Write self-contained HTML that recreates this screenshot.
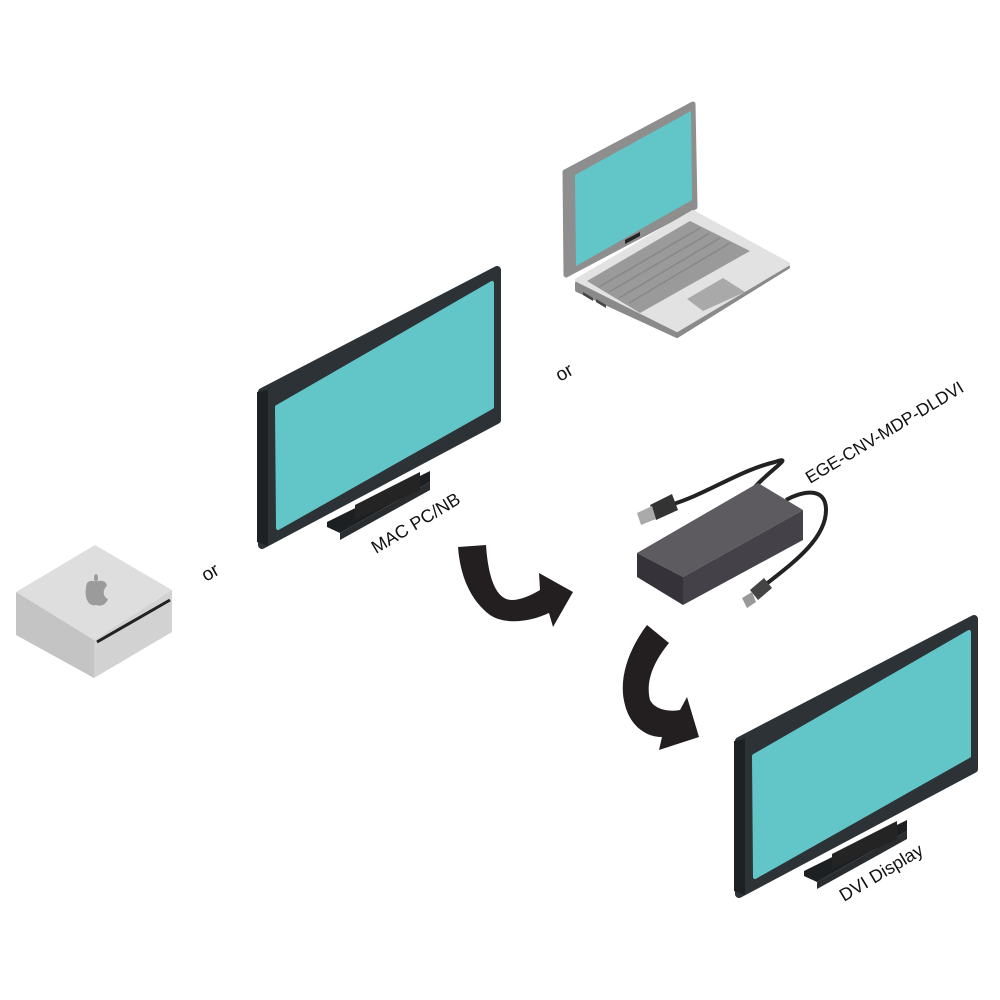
<!DOCTYPE html>
<html><head><meta charset="utf-8"><style>
html,body{margin:0;padding:0;background:#fff;width:1000px;height:1000px;overflow:hidden}
svg{display:block}
text{font-family:"Liberation Sans",sans-serif;fill:#111}
</style></head><body>
<svg width="1000" height="1000" viewBox="0 0 1000 1000" xmlns="http://www.w3.org/2000/svg">
<defs>
<g id="mon">
  <polygon points="327,522 430,471 430,482 340,533 327,527" fill="#1d2022"/>
  <polygon points="340,533 430,482 430,490 340,540" fill="#2a2d30"/>
  <polygon points="355,505 420,472 420,490 355,520" fill="#242424"/>
  <polygon points="262,392 497,270 497,420 262,545" fill="#2c3235" stroke="#2c3235" stroke-width="8" stroke-linejoin="round"/>
  <polygon points="257,392 268,390 268,546 257,542" fill="#1d2124"/>
  <polygon points="277,407 492,283 492,407 278,528" fill="#62c6c8" stroke="#62c6c8" stroke-width="4" stroke-linejoin="round"/>
</g>
</defs>

<use href="#mon"/>
<use href="#mon" transform="translate(477,349)"/>

<polygon points="565,172 693,104 695,207 566,275" fill="#8e8e8e" stroke="#8e8e8e" stroke-width="5" stroke-linejoin="round"/>
<polygon points="575,175 691,111 692,200 576,266" fill="#62c6c8"/>
<polygon points="625,240 640,232 640,236 625,244" fill="#222"/>
<polygon points="577,283 693,215 788,267 677,336 577,290" fill="#8a8a8a" stroke="#8a8a8a" stroke-width="4" stroke-linejoin="round"/>
<polygon points="577,280 693,212 788,264 677,330" fill="#e1e2e1" stroke="#e1e2e1" stroke-width="4" stroke-linejoin="round"/>
<polygon points="587,281 690,221 750,251 640,313" fill="#9a9a9a"/>
<g stroke="#888" stroke-width="1.5">
<line x1="599" y1="287" x2="700" y2="228"/><line x1="609" y1="292" x2="710" y2="233"/>
<line x1="619" y1="298" x2="720" y2="238"/><line x1="629" y1="303" x2="730" y2="243"/>
</g>
<polygon points="687,299 723,278 745,292 703,311" fill="#a9a9a9"/>
<polygon points="583,292 593,298 593,301 583,295" fill="#444"/>
<polygon points="596,299 606,305 606,308 596,302" fill="#444"/>

<polygon points="16,592 95,545 172,590 94,640" fill="#dedede"/>
<polygon points="16,592 94,640 94,678 16,635" fill="#c4c4c4"/>
<polygon points="94,640 172,590 172,632 94,678" fill="#d2d2d2"/>
<line x1="97" y1="642" x2="170" y2="600" stroke="#222" stroke-width="3"/>
<path d="M86,588 C86,580 92,580 96,582 C100,580 106,580 107,586 C102,590 103,597 108,599 C106,604 102,607 96,605 C90,607 84,600 86,588 Z" fill="#9b9b9b"/>
<ellipse cx="96" cy="578" rx="2" ry="4" fill="#9b9b9b"/>

<path d="M755,487 C770,470 795,455 775,462 C740,470 705,495 670,505" fill="none" stroke="#222" stroke-width="4"/>
<path d="M786,500 C800,492 826,485 826,510 C826,540 790,565 765,585" fill="none" stroke="#222" stroke-width="4"/>
<polygon points="650,505 672,494 678,510 656,520" fill="#333"/>
<polygon points="637,513 652,506 656,519 641,525" fill="#aaa"/>
<polygon points="750,590 764,578 772,588 758,600" fill="#444"/>
<polygon points="742,598 752,592 756,602 747,608" fill="#999"/>
<polygon points="637,553 758,483 803,510 683,577" fill="#5d5a60"/>
<polygon points="637,553 683,577 683,605 637,577" fill="#353339"/>
<polygon points="683,577 803,510 803,540 683,605" fill="#444148"/>

<path d="M458,547 L486,545 C488,575 495,600 512,600 C520,600 530,596 540,590 L539,573 L573,592 L553,627 L549,613 C530,622 505,625 490,615 C470,600 460,575 458,547 Z" fill="#231f20"/>
<path d="M647,625 L669,643 C655,660 645,680 650,700 C655,710 670,712 680,710 L687,697 L699,737 L659,750 L662,737 C645,737 630,725 625,705 C618,680 628,650 647,625 Z" fill="#231f20"/>

<text x="0" y="0" font-size="19" transform="translate(560,382) rotate(-30)">or</text>
<text x="0" y="0" font-size="19" transform="translate(206,582) rotate(-30)">or</text>
<text x="0" y="0" font-size="18" transform="translate(376,554) rotate(-31)">MAC PC/NB</text>
<text x="0" y="0" font-size="17.5" transform="translate(810,484) rotate(-31)">EGE-CNV-MDP-DLDVI</text>
<text x="0" y="0" font-size="18" transform="translate(844,902) rotate(-31)">DVI Display</text>
</svg>
</body></html>
